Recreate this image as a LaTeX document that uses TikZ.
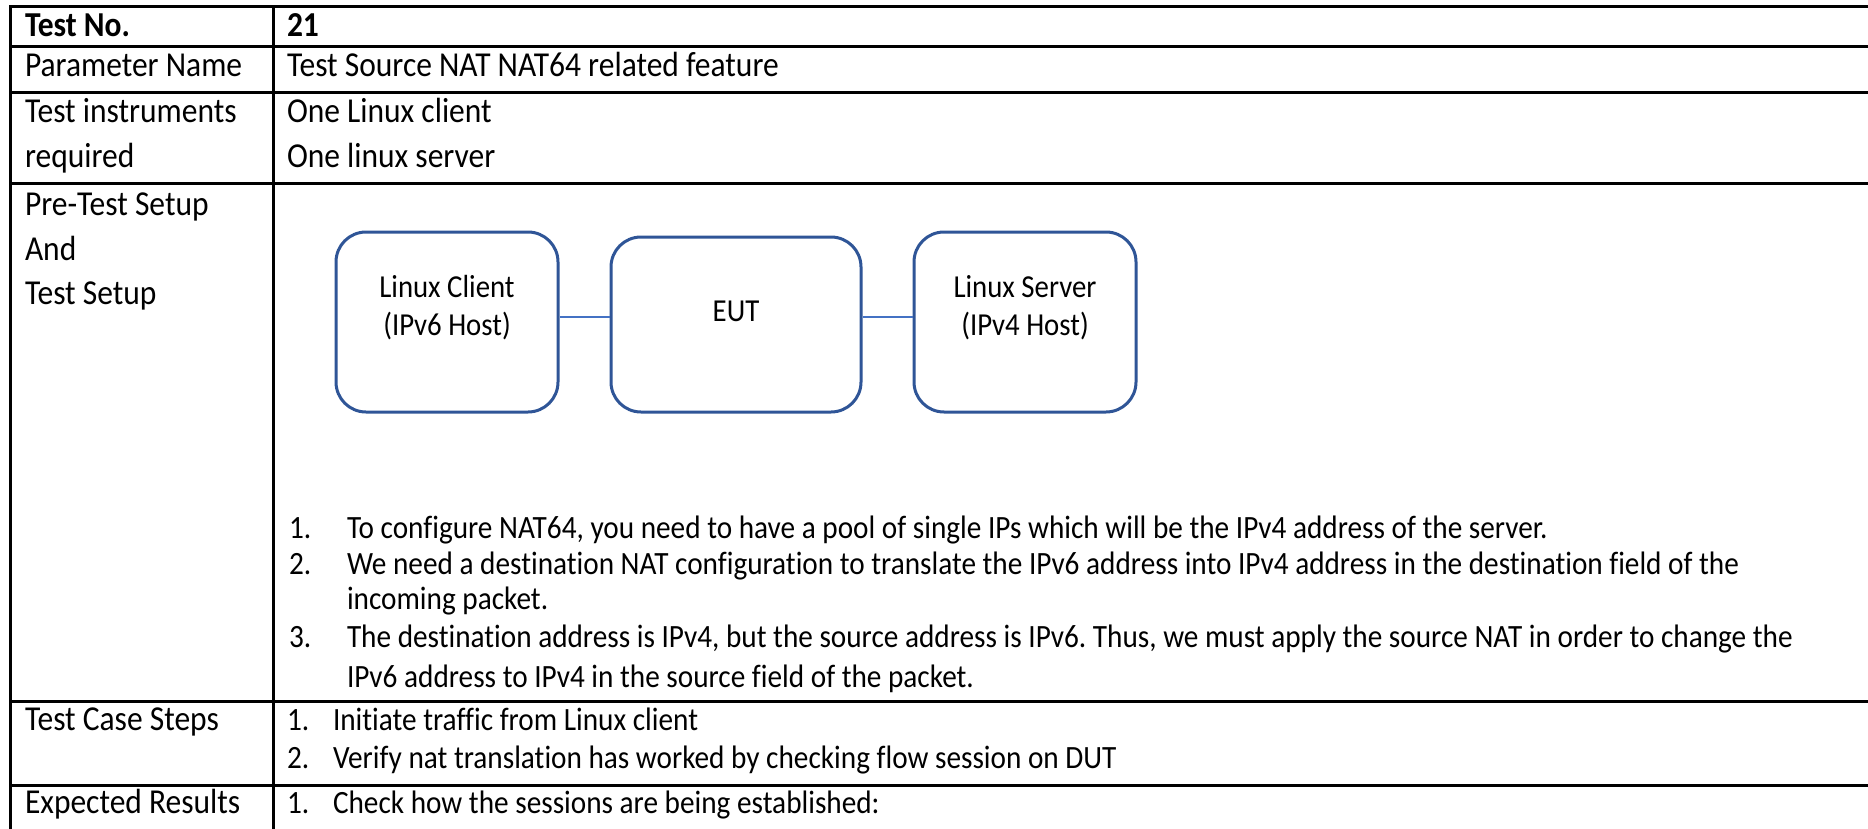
\documentclass[tikz,border=0pt]{standalone}
\usepackage{fontspec}
\setmainfont{Carlito}[FakeStretch=0.9, Ligatures={NoCommon,NoContextual,NoRare}, Contextuals=NoAlternate]
\definecolor{boxblue}{HTML}{2F5597}
\definecolor{linkblue}{HTML}{4472C4}
\newcommand\myfs[1]{\fontsize{#1}{#1}\selectfont}
\newcommand\myti{t\kern0pt i}
\frenchspacing
\begin{document}
\begin{tikzpicture}[x=1pt,y=-1pt,
  tline/.style={line width=3pt, black, line cap=rect},
  lbl/.style={anchor=base west, inner sep=0pt, outer sep=0pt, font=\myfs{35}},
  lblb/.style={lbl, font=\myfs{35}\bfseries},
  itm/.style={anchor=base west, inner sep=0pt, outer sep=0pt, font=\myfs{32.5}},
  boxtxt/.style={anchor=base, inner sep=0pt, outer sep=0pt, font=\myfs{32}},
  devbox/.style={draw=boxblue, line width=3pt, rounded corners=30pt, minimum width=222pt, inner sep=0pt},
  link/.style={draw=linkblue, line width=2.5pt}]
\useasboundingbox (0,0) rectangle (1868,829);
\fill[white] (0,0) rectangle (1868,829);
% table rules
\draw[tline] (10,7) -- (1868,7);
\draw[tline] (10,47) -- (1868,47);
\draw[tline] (10,93) -- (1868,93);
\draw[tline] (10,184) -- (1868,184);
\draw[tline] (10,701) -- (1868,701);
\draw[tline] (10,785) -- (1868,785);
\draw[tline] (10,7) -- (10,829);
\draw[tline] (273,7) -- (273,829);
% left column
\node[lblb] (l1) at (25,37) {Test No.};
\node[lbl] (l2) at (25,77) {Parameter Name};
\node[lbl] (l3a) at (25,123) {Test instruments};
\node[lbl] (l3b) at (25,168) {required};
\node[lbl] (l4a) at (25,215) {Pre-Test Setup};
\node[lbl] (l4b) at (25,260) {And};
\node[lbl] (l4c) at (25,304) {Test Setup};
\node[lbl] (l5) at (25,730) {Test Case Steps};
\node[lbl] (l6) at (25,813) {Expected Results};
% right column
\node[lblb] (r1) at (287,37) {21};
\node[lbl] (r2) at (287,77) {Test Source NAT NAT64 related feature};
\node[lbl] (r3a) at (287,123) {One Linux client};
\node[lbl] (r3b) at (287,168) {One linux server};
% diagram
\node[devbox, minimum height=180pt] (cli) at (447,322) {};
\node[devbox, minimum width=250pt, minimum height=175pt] (eut) at (736,324.5) {};
\node[devbox, minimum height=180pt] (srv) at (1025,322) {};
\draw[link] ([yshift=5pt]cli.east) -- ([yshift=5pt]cli.east -| eut.west);
\draw[link] ([yshift=5pt]srv.west -| eut.east) -- ([yshift=5pt]srv.west);
\node[boxtxt] (clit1) at (447,297) {Linux Client};
\node[boxtxt] (clit2) at (447,335) {(IPv6 Host)};
\node[boxtxt] (eutt) at (736,321) {EUT};
\node[boxtxt] (srvt1) at (1025,297) {Linux Server};
\node[boxtxt] (srvt2) at (1025,335) {(IPv4 Host)};
% pre-test list
\node[itm] (p1n) at (289,538) {1.};
\node[itm] (p1t) at (347,538) {To configure NAT64, you need to have a pool of single IPs which will be the IPv4 address of the server.};
\node[itm] (p2n) at (289,574) {2.};
\node[itm] (p2t) at (347,574) {We need a destina\myti on NAT configura\myti on to translate the IPv6 address into IPv4 address in the destina\myti on field of the};
\node[itm] (p2u) at (347,609) {incoming packet.};
\node[itm] (p3n) at (289,647) {3.};
\node[itm] (p3t) at (347,647) {The destina\myti on address is IPv4, but the source address is IPv6. Thus, we must apply the source NAT in order to change the};
\node[itm] (p3u) at (347,687) {IPv6 address to IPv4 in the source field of the packet.};
% test case steps
\node[itm] (s1n) at (287,730) {1.};
\node[itm] (s1t) at (333,730) {Ini\myti ate traffic from Linux client};
\node[itm] (s2n) at (287,768) {2.};
\node[itm] (s2t) at (333,768) {Verify nat transla\myti on has worked by checking flow session on DUT};
% expected
\node[itm] (e1n) at (287,813) {1.};
\node[itm] (e1t) at (333,813) {Check how the sessions are being established:};
\end{tikzpicture}
\end{document}
